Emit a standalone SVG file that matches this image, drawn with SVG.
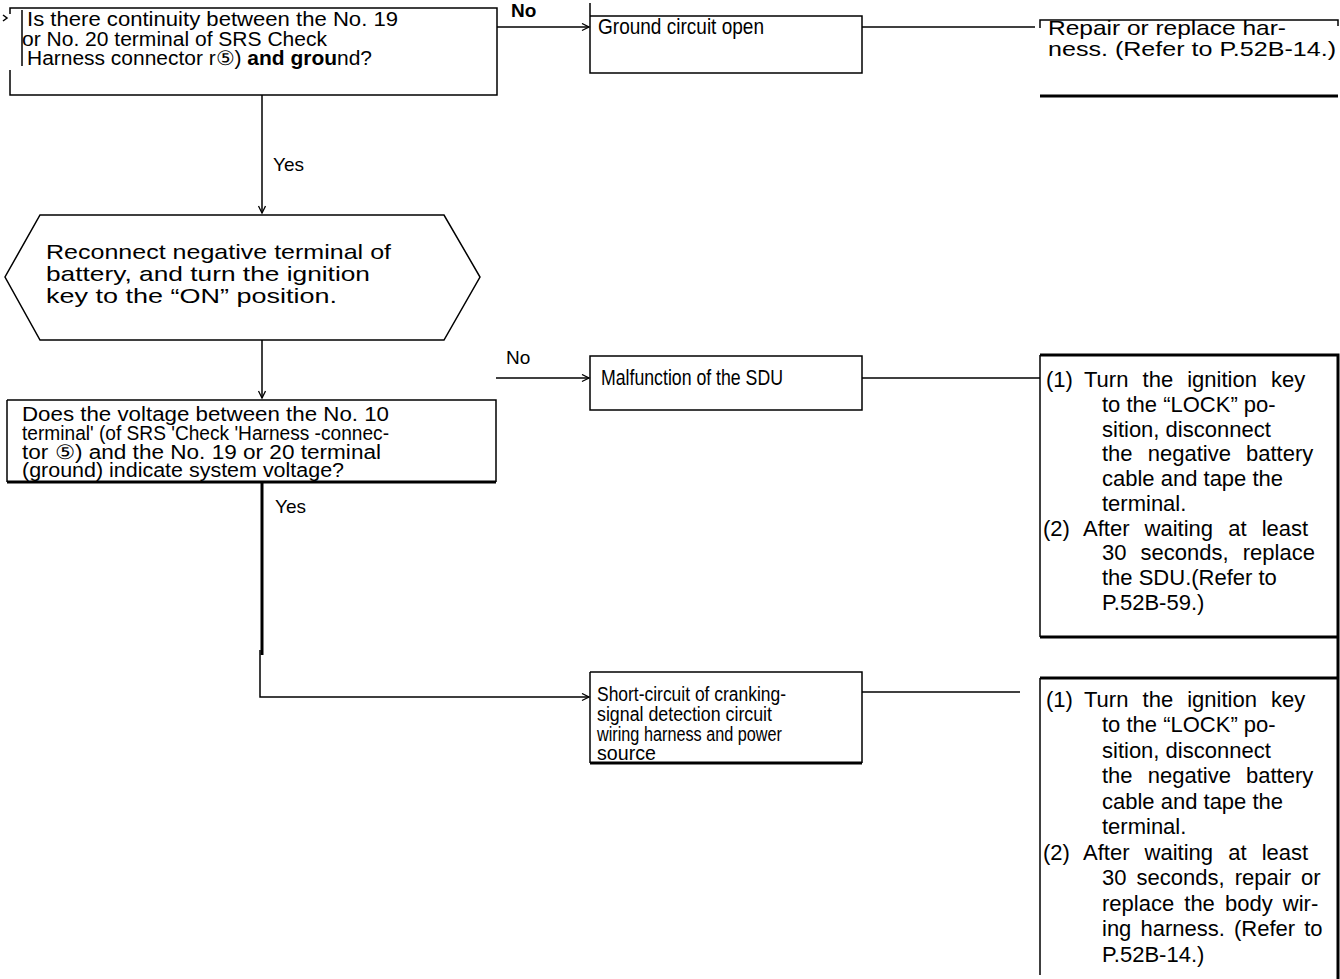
<svg xmlns="http://www.w3.org/2000/svg" width="1340" height="979" viewBox="0 0 1340 979">
<defs>
<marker id="arr" markerWidth="10" markerHeight="10" refX="8" refY="4" orient="auto" markerUnits="userSpaceOnUse">
<path d="M1,0.5 L8,4 L1,7.5" fill="none" stroke="#000" stroke-width="1.3"/>
</marker>
<style>
.ln{stroke:#000;stroke-width:1.5;fill:none}
.thk{stroke:#000;stroke-width:3;fill:none}
.t{font-family:"Liberation Sans",Arial,sans-serif;font-size:20px;fill:#000}
.h{font-family:"Liberation Sans",Arial,sans-serif;font-size:21px;fill:#000}
.n{font-family:"Liberation Sans",Arial,sans-serif;font-size:22px;fill:#000}
.c{font-family:"Liberation Sans",Arial,sans-serif;font-size:20px;fill:#000}
.lb{font-family:"Liberation Sans",Arial,sans-serif;font-size:19px;fill:#000}
</style>
</defs>
<rect width="1340" height="979" fill="#fff"/>

<g id="connectors">
<path class="ln" d="M497,27 H589" marker-end="url(#arr)"/>
<path class="ln" d="M862,27 H1035"/>
<path class="ln" d="M262,95 V213" marker-end="url(#arr)"/>
<path class="ln" d="M262,340 V398" marker-end="url(#arr)"/>
<path class="ln" d="M496,378 H589" marker-end="url(#arr)"/>
<path class="ln" d="M862,378 H1040"/>
<path class="thk" d="M262,482 V655"/>
<path class="ln" d="M260,650 V697 H589" marker-end="url(#arr)"/>
<path class="ln" d="M862,692 H1020"/>
<text class="lb" x="511" y="17" font-weight="bold">No</text>
<text class="lb" x="273" y="171">Yes</text>
<text class="lb" x="506" y="364">No</text>
<text class="lb" x="275" y="513">Yes</text>
</g>

<g id="q1">
<path class="ln" d="M10,14 V8 H497 V95 H10 V70"/>
<path class="ln" d="M22,10 V66"/>
<path class="ln" d="M3,15 L7,18 L3,21"/>
<text class="t" x="27" y="26" textLength="371" lengthAdjust="spacingAndGlyphs">Is there continuity between the No. 19</text>
<text class="t" x="22" y="45.5" textLength="305" lengthAdjust="spacingAndGlyphs">or No. 20 terminal of SRS Check</text>
<text class="t" x="27" y="65" textLength="345" lengthAdjust="spacingAndGlyphs">Harness  connector r⑤) <tspan font-weight="bold">and grou</tspan>nd?</text>
</g>

<g id="ground-open">
<path class="ln" d="M590,3 V73 H862 V16 H590"/>
<text class="n" x="598" y="34" textLength="166" lengthAdjust="spacingAndGlyphs">Ground circuit open</text>
</g>

<g id="repair-harness">
<path class="ln" d="M1040,28 V20 H1338 V26"/>
<path class="thk" d="M1040,96 H1338"/>
<text class="h" x="1048" y="35" textLength="238" lengthAdjust="spacingAndGlyphs">Repair or replace har-</text>
<text class="h" x="1048" y="56" textLength="288" lengthAdjust="spacingAndGlyphs">ness. (Refer to P.52B-14.)</text>
</g>

<g id="reconnect">
<path class="ln" d="M40,215 H444 L480,277 L444,340 H40 L5,277 Z"/>
<text class="h" x="46" y="259" textLength="345" lengthAdjust="spacingAndGlyphs">Reconnect negative terminal of</text>
<text class="h" x="46" y="281" textLength="324" lengthAdjust="spacingAndGlyphs">battery, and turn the ignition</text>
<text class="h" x="46" y="303" textLength="291" lengthAdjust="spacingAndGlyphs">key to the “ON” position.</text>
</g>

<g id="q2">
<path class="ln" d="M7,400 H496 V482"/>
<path class="ln" d="M7,400 V482"/>
<path class="thk" d="M7,482 H496"/>
<text class="t" x="22" y="421" textLength="367" lengthAdjust="spacingAndGlyphs">Does the voltage between the No. 10</text>
<text class="t" x="22" y="440" textLength="367" lengthAdjust="spacingAndGlyphs">terminal' (of SRS 'Check 'Harness -connec-</text>
<text class="t" x="22" y="458.5" textLength="359" lengthAdjust="spacingAndGlyphs">tor ⑤) and the No. 19 or 20 terminal</text>
<text class="t" x="22" y="477" textLength="322" lengthAdjust="spacingAndGlyphs">(ground) indicate system voltage?</text>
</g>

<g id="sdu-fault">
<path class="ln" d="M590,356 H862 V410 H590 Z"/>
<text class="n" x="601" y="385" textLength="182" lengthAdjust="spacingAndGlyphs">Malfunction of the SDU</text>
</g>

<g id="replace-sdu">
<path class="thk" d="M1040,355 H1338 V979"/>
<path class="thk" d="M1040,637 H1338"/>
<path class="ln" d="M1040,355 V637"/>
<text class="n" y="387"><tspan x="1046">(1)</tspan><tspan x="1084" word-spacing="8">Turn the ignition key</tspan></text>
<text class="n" x="1102" y="412">to the “LOCK” po-</text>
<text class="n" x="1102" y="437">sition, disconnect</text>
<text class="n" x="1102" y="461" word-spacing="9">the negative battery</text>
<text class="n" x="1102" y="486">cable and tape the</text>
<text class="n" x="1102" y="511">terminal.</text>
<text class="n" y="536"><tspan x="1043">(2)</tspan><tspan x="1083" word-spacing="9">After waiting at least</tspan></text>
<text class="n" x="1102" y="560" word-spacing="8">30 seconds, replace</text>
<text class="n" x="1102" y="585">the SDU.(Refer to</text>
<text class="n" x="1102" y="610">P.52B-59.)</text>
</g>

<g id="short-circuit">
<path class="ln" d="M590,672 H862 V763"/>
<path class="ln" d="M590,672 V763"/>
<path class="thk" d="M590,763 H862"/>
<text class="c" x="597" y="701" textLength="189" lengthAdjust="spacingAndGlyphs">Short-circuit of cranking-</text>
<text class="c" x="597" y="721" textLength="175" lengthAdjust="spacingAndGlyphs">signal detection circuit</text>
<text class="c" x="597" y="741" textLength="185" lengthAdjust="spacingAndGlyphs">wiring harness and power</text>
<text class="c" x="597" y="760" textLength="59" lengthAdjust="spacingAndGlyphs">source</text>
</g>

<g id="repair-body">
<path class="thk" d="M1040,678 H1338"/>
<path class="ln" d="M1040,678 V975"/>
<text class="n" y="707"><tspan x="1046">(1)</tspan><tspan x="1084" word-spacing="8">Turn the ignition key</tspan></text>
<text class="n" x="1102" y="732">to the “LOCK” po-</text>
<text class="n" x="1102" y="758">sition, disconnect</text>
<text class="n" x="1102" y="783" word-spacing="9">the negative battery</text>
<text class="n" x="1102" y="809">cable and tape the</text>
<text class="n" x="1102" y="834">terminal.</text>
<text class="n" y="860"><tspan x="1043">(2)</tspan><tspan x="1083" word-spacing="9">After waiting at least</tspan></text>
<text class="n" x="1102" y="885" word-spacing="4">30 seconds, repair or</text>
<text class="n" x="1102" y="911" word-spacing="4">replace the body wir-</text>
<text class="n" x="1102" y="936" word-spacing="3">ing harness. (Refer to</text>
<text class="n" x="1102" y="962">P.52B-14.)</text>
</g>
</svg>
